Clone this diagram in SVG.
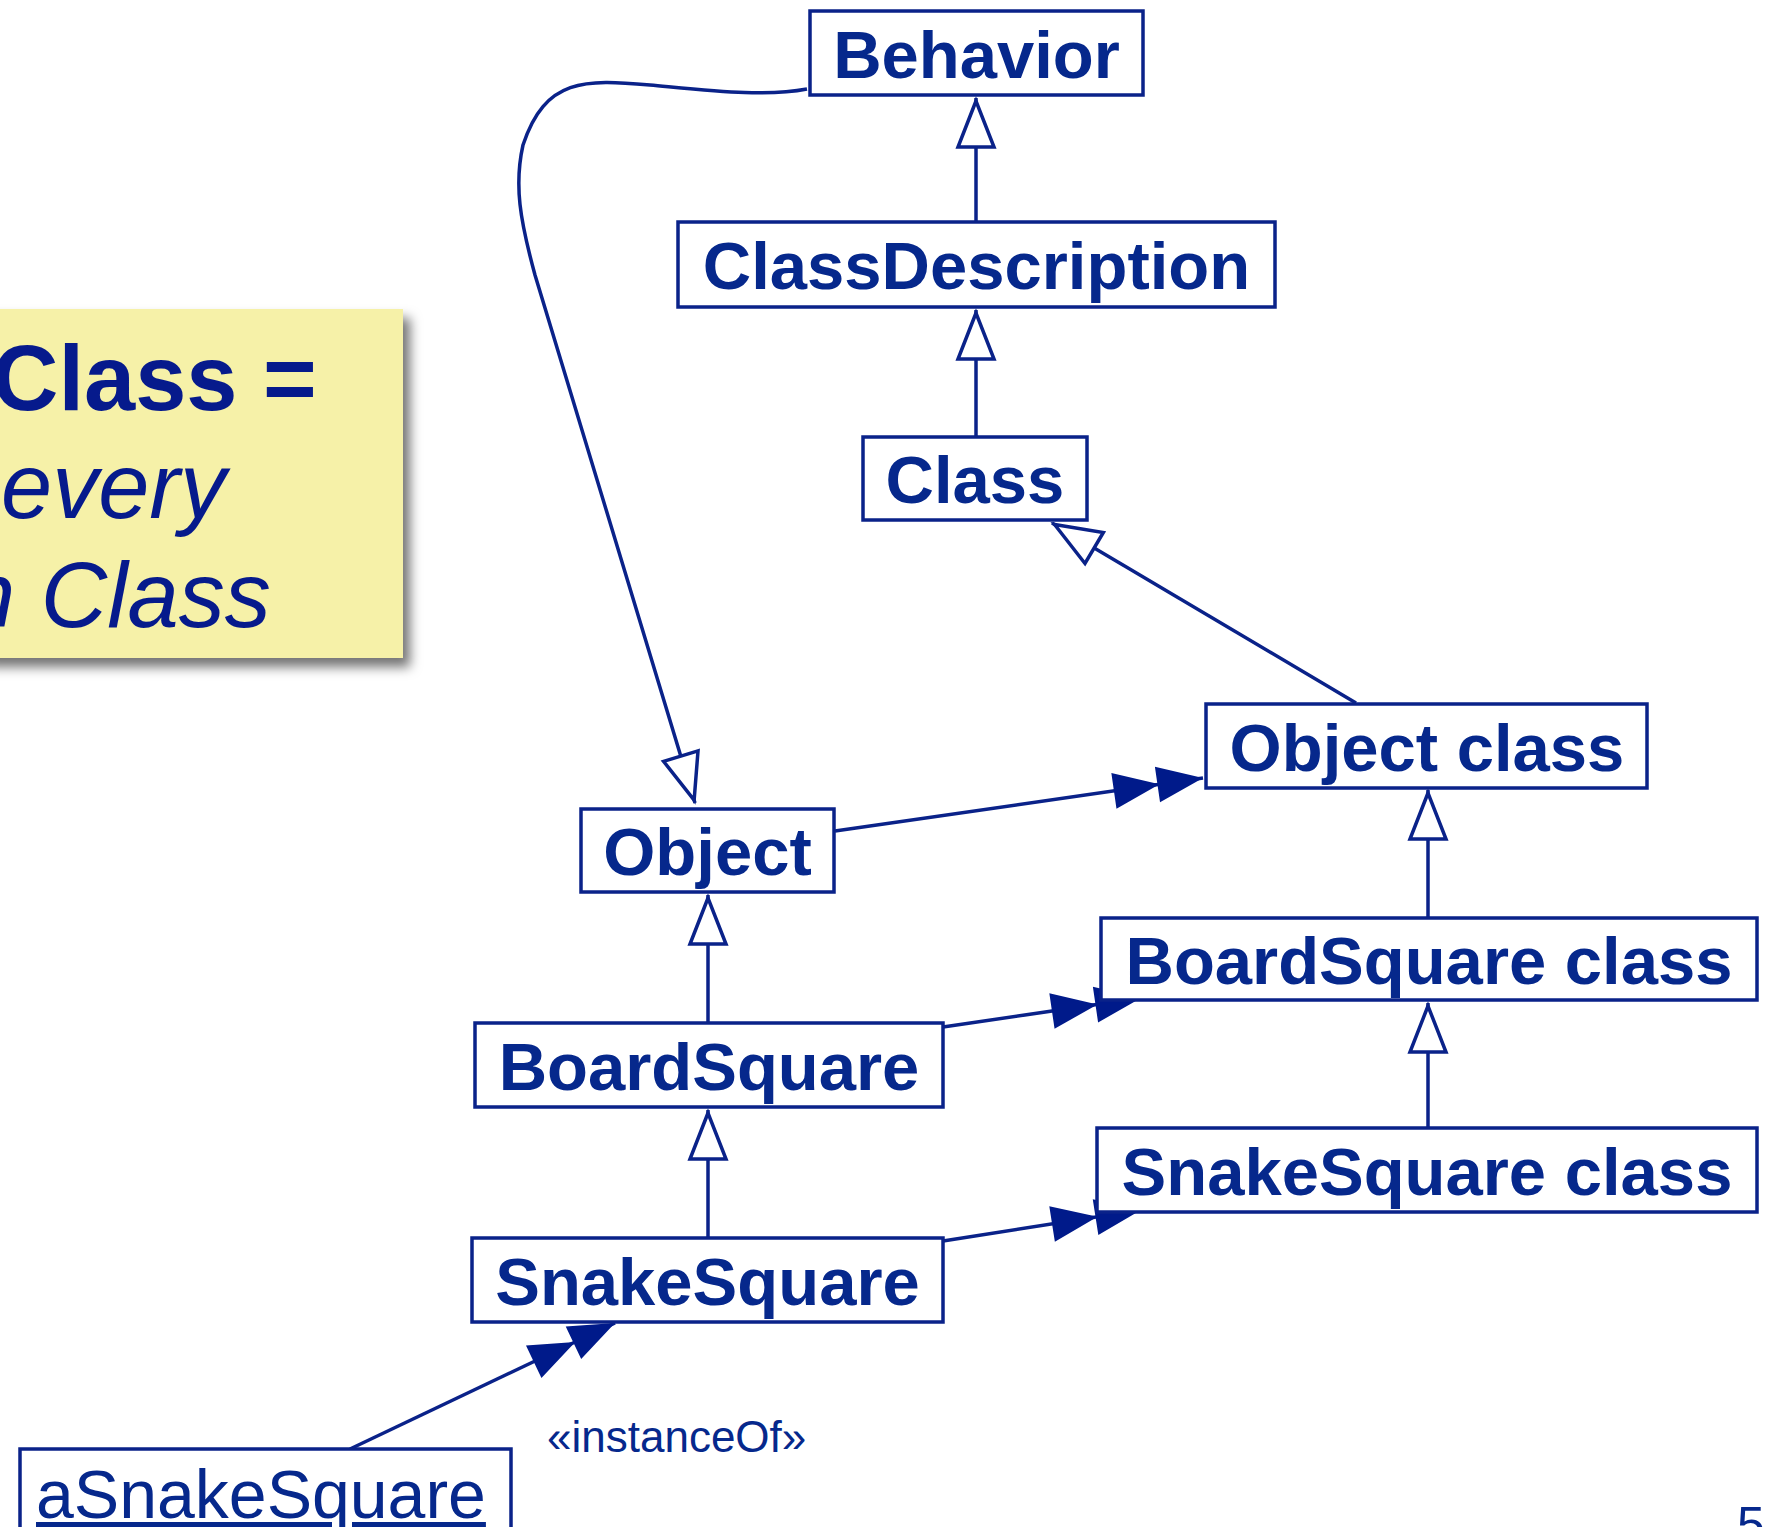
<svg xmlns="http://www.w3.org/2000/svg" width="1769" height="1527" viewBox="0 0 1769 1527">
<style>
.box{fill:#fff;stroke:#0A2289;stroke-width:3.5}
.lbl{font-family:"Liberation Sans",Arial,Helvetica,sans-serif;font-weight:bold;font-size:67px;fill:#06288C;text-anchor:middle}
.obj{font-family:"Liberation Sans",Arial,Helvetica,sans-serif;font-size:68px;fill:#06288C;text-decoration:underline}
.con{fill:none;stroke:#0A2289;stroke-width:3.5}
.note{font-family:"Liberation Sans",Arial,Helvetica,sans-serif;font-size:92px;fill:#061A8C}
.small{font-family:"Liberation Sans",Arial,Helvetica,sans-serif;font-size:44px;fill:#06288C}
</style>
<defs>
<filter id="shadow" x="-10%" y="-10%" width="130%" height="130%">
<feDropShadow dx="7" dy="9" stdDeviation="6" flood-color="#000" flood-opacity="0.55"/>
</filter>
<marker id="gen" markerUnits="userSpaceOnUse" markerWidth="1" markerHeight="1" refX="0" refY="0" orient="auto" overflow="visible">
<path d="M-3,0 L-49,-18 L-49,18 Z" fill="#fff" stroke="#0A2289" stroke-width="3.5"/>
</marker>
<marker id="inst" markerUnits="userSpaceOnUse" markerWidth="1" markerHeight="1" refX="0" refY="0" orient="auto" overflow="visible">
<path d="M0,0 L-46,-18 L-46,18 Z M-44,0 L-90,-18 L-90,18 Z" fill="#001A8A"/>
</marker>
</defs>
<rect width="1769" height="1527" fill="#fff"/>

<g id="note">
<rect x="-20" y="309" width="423" height="349" fill="#F6F1A8" filter="url(#shadow)"/>
<text class="note" x="-8" y="410" font-weight="bold">Class =</text>
<text class="note" x="1" y="518" font-style="italic">every</text>
<text class="note" x="-36" y="627" font-style="italic">n Class</text>
</g>

<g id="connectors">
<path class="con" d="M976 222 L976 98" marker-end="url(#gen)"/>
<path class="con" d="M976 437 L976 310" marker-end="url(#gen)"/>
<path class="con" d="M1356 703 L1052 523" marker-end="url(#gen)"/>
<path class="con" d="M1428 918 L1428 790" marker-end="url(#gen)"/>
<path class="con" d="M1428 1128 L1428 1003" marker-end="url(#gen)"/>
<path class="con" d="M708 1023 L708 895" marker-end="url(#gen)"/>
<path class="con" d="M708 1238 L708 1110" marker-end="url(#gen)"/>
<path class="con" d="M807 89 C 765 97 715 91 650 85 S 545 78 523 145 C 514 185 520 220 535 275 L 695 803" marker-end="url(#gen)"/>
<path class="con" d="M835 831 L1203 778" marker-end="url(#inst)"/>
<path class="con" d="M943 1027 L1141 998" marker-end="url(#inst)"/>
<path class="con" d="M943 1241 L1141 1210" marker-end="url(#inst)"/>
<path class="con" d="M350 1449 L615 1323" marker-end="url(#inst)"/>
<text class="small" x="547" y="1452">«instanceOf»</text>
</g>

<g id="behavior">
<rect class="box" x="810" y="11" width="333" height="84"/>
<text class="lbl" x="976.5" y="78">Behavior</text>
</g>
<g id="classdescription">
<rect class="box" x="678" y="222" width="597" height="85"/>
<text class="lbl" x="976.5" y="289">ClassDescription</text>
</g>
<g id="class">
<rect class="box" x="863" y="437" width="224" height="83"/>
<text class="lbl" x="975" y="503">Class</text>
</g>
<g id="objectclass">
<rect class="box" x="1206" y="704" width="441" height="84"/>
<text class="lbl" x="1427" y="771">Object class</text>
</g>
<g id="object">
<rect class="box" x="581" y="809" width="253" height="83"/>
<text class="lbl" x="707.5" y="875">Object</text>
</g>
<g id="boardsquareclass">
<rect class="box" x="1101" y="918" width="656" height="82"/>
<text class="lbl" x="1429" y="984">BoardSquare class</text>
</g>
<g id="boardsquare">
<rect class="box" x="475" y="1023" width="468" height="84"/>
<text class="lbl" x="709" y="1090">BoardSquare</text>
</g>
<g id="snakesquareclass">
<rect class="box" x="1097" y="1128" width="660" height="84"/>
<text class="lbl" x="1427" y="1195">SnakeSquare class</text>
</g>
<g id="snakesquare">
<rect class="box" x="472" y="1238" width="471" height="84"/>
<text class="lbl" x="707.5" y="1305">SnakeSquare</text>
</g>
<g id="asnakesquare">
<rect class="box" x="20" y="1449" width="491" height="100"/>
<text class="obj" x="36" y="1518">aSnakeSquare</text>
</g>

<text x="1737" y="1542" font-family="'Liberation Sans',Arial,sans-serif" font-size="50" fill="#06288C">5</text>
</svg>
